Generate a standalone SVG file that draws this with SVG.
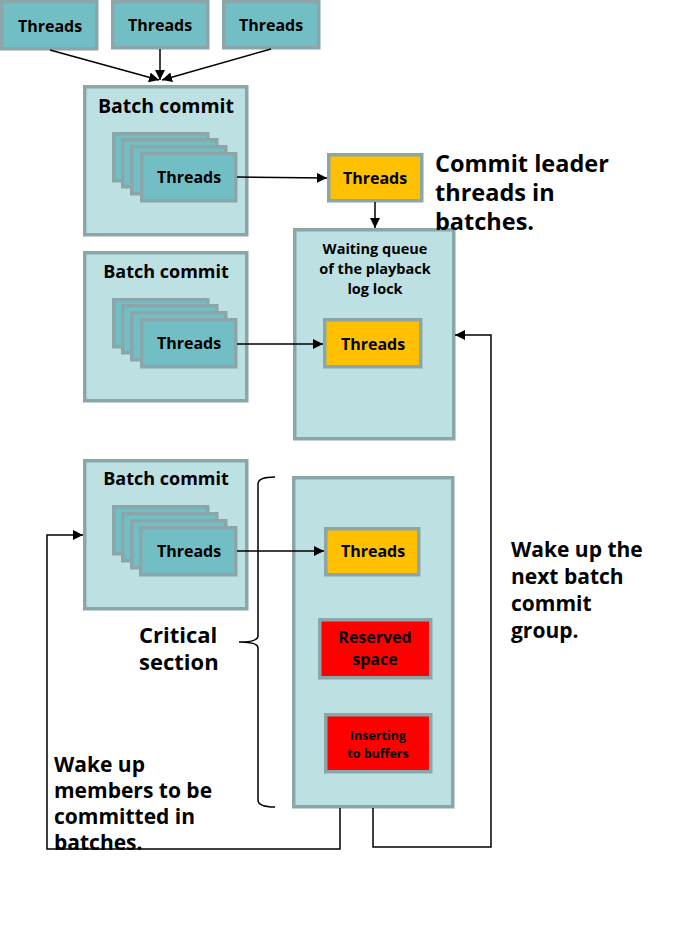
<svg xmlns="http://www.w3.org/2000/svg" width="688" height="926" viewBox="0 0 688 926">
<defs>
<marker id="ah" viewBox="0 0 10 10" refX="10" refY="5" markerWidth="10" markerHeight="10" markerUnits="userSpaceOnUse" orient="auto">
<path d="M0,0 L10,5 L0,10 z" fill="#000"/>
</marker>
<style>
.t{fill:#71bfc5;stroke:#8aa6a8;stroke-width:3.5}
.p{fill:#bde0e3;stroke:#8aa6a8;stroke-width:3.5}
.o{fill:#ffc000;stroke:#8aa6a8;stroke-width:3.5}
.r{fill:#ff0000;stroke:#8aa6a8;stroke-width:3.5}
text{font-family:"Open Sans","DejaVu Sans",sans-serif;font-weight:700;fill:#000}
.c{text-anchor:middle}
.s16{font-size:16px}
.s18{font-size:18px}
.big{font-size:22px}
.ln{fill:none;stroke:#000;stroke-width:1.5}
</style>
</defs>
<rect width="688" height="926" fill="#fff"/>

<g id="threads-top-1"><rect class="t" x="1.75" y="1.75" width="95" height="47"/><text class="c s16" x="50" y="32">Threads</text></g>
<g id="threads-top-2"><rect class="t" x="112.75" y="1.75" width="95" height="46"/><text class="c s16" x="160" y="31">Threads</text></g>
<g id="threads-top-3"><rect class="t" x="223.75" y="1.75" width="95" height="46"/><text class="c s16" x="271" y="31">Threads</text></g>

<g id="batch-1">
<rect class="p" x="84.75" y="86.75" width="162" height="148"/>
<text class="c" style="font-size:19.5px" x="166" y="113">Batch commit</text>
<rect class="t" x="113.75" y="133.75" width="94" height="47"/>
<rect class="t" x="122.75" y="139.75" width="94" height="47"/>
<rect class="t" x="131.75" y="146.75" width="94" height="47"/>
<rect class="t" x="141.75" y="153.75" width="94" height="47"/>
<text class="c s16" x="189" y="183">Threads</text>
</g>

<g id="batch-2">
<rect class="p" x="84.75" y="252.75" width="162" height="148"/>
<text class="c s18" x="166" y="278">Batch commit</text>
<rect class="t" x="113.75" y="299.75" width="94" height="47"/>
<rect class="t" x="122.75" y="305.75" width="94" height="47"/>
<rect class="t" x="131.75" y="312.75" width="94" height="47"/>
<rect class="t" x="141.75" y="319.75" width="94" height="47"/>
<text class="c s16" x="189" y="349">Threads</text>
</g>

<g id="batch-3">
<rect class="p" x="84.75" y="460.75" width="162" height="148"/>
<text class="c s18" x="166" y="485">Batch commit</text>
<rect class="t" x="113.75" y="506.75" width="94" height="47"/>
<rect class="t" x="122.75" y="513.75" width="94" height="47"/>
<rect class="t" x="131.75" y="520.75" width="94" height="47"/>
<rect class="t" x="140.75" y="527.75" width="95" height="47"/>
<text class="c s16" x="189" y="557">Threads</text>
</g>

<g id="leader">
<rect class="o" x="328.75" y="154.75" width="93" height="46"/>
<text class="c s16" x="375" y="184">Threads</text>
</g>

<g id="waiting-queue">
<rect class="p" x="294.75" y="229.75" width="159" height="209"/>
<text class="c" style="font-size:14.5px" x="375" y="254">Waiting queue</text>
<text class="c" style="font-size:14.5px" x="375" y="274">of the playback</text>
<text class="c" style="font-size:14.5px" x="375" y="294">log lock</text>
<rect class="o" x="324.75" y="319.75" width="96" height="47"/>
<text class="c s16" x="373" y="350">Threads</text>
</g>

<g id="critical-box">
<rect class="p" x="293.75" y="477.75" width="159" height="329"/>
<rect class="o" x="325.75" y="528.75" width="93" height="46"/>
<text class="c s16" x="373" y="557">Threads</text>
<rect class="r" x="319.75" y="619.75" width="111" height="58"/>
<text class="c" style="font-size:16px" x="375" y="643">Reserved</text>
<text class="c" style="font-size:16px" x="375" y="665">space</text>
<rect class="r" x="325.75" y="714.75" width="105" height="57"/>
<text class="c" style="font-size:12.5px" x="378" y="740">Inserting</text>
<text class="c" style="font-size:12.5px" x="378" y="758">to buffers</text>
</g>

<g id="brace">
<path class="ln" d="M275,477 Q258,477 258,484 L258,636 Q258,642 239,642 Q258,642 258,648 L258,800 Q258,807 275,807"/>
</g>

<g id="labels">
<text class="big" style="font-size:23.5px" x="435" y="172">Commit leader</text>
<text class="big" style="font-size:23.5px" x="435" y="201">threads in</text>
<text class="big" style="font-size:23.5px" x="435" y="230">batches.</text>
<text class="big" x="139" y="643">Critical</text>
<text class="big" x="139" y="670">section</text>
<text class="big" style="font-size:21px" x="511" y="557">Wake up the</text>
<text class="big" style="font-size:21px" x="511" y="584">next batch</text>
<text class="big" style="font-size:21px" x="511" y="611">commit</text>
<text class="big" style="font-size:21px" x="511" y="638">group.</text>
<text class="big" style="font-size:21px" x="54" y="772">Wake up</text>
<text class="big" style="font-size:21px" x="54" y="798">members to be</text>
<text class="big" style="font-size:21px" x="54" y="824">committed in</text>
<text class="big" style="font-size:21px" x="54" y="850">batches.</text>
</g>

<g id="connectors">
<line class="ln" x1="50" y1="50" x2="159" y2="80" marker-end="url(#ah)"/>
<line class="ln" x1="160" y1="49" x2="160" y2="80" marker-end="url(#ah)"/>
<line class="ln" x1="271" y1="49" x2="162" y2="80" marker-end="url(#ah)"/>
<line class="ln" x1="237" y1="177" x2="327" y2="178" marker-end="url(#ah)"/>
<line class="ln" x1="375" y1="202" x2="375" y2="228" marker-end="url(#ah)"/>
<line class="ln" x1="237" y1="344" x2="323" y2="344" marker-end="url(#ah)"/>
<line class="ln" x1="237" y1="551" x2="324" y2="551" marker-end="url(#ah)"/>
<polyline class="ln" points="340,808 340,849 47,849 47,535 83,535" marker-end="url(#ah)"/>
<polyline class="ln" points="373,808 373,847 491,847 491,335 455,335" marker-end="url(#ah)"/>
</g>
</svg>
